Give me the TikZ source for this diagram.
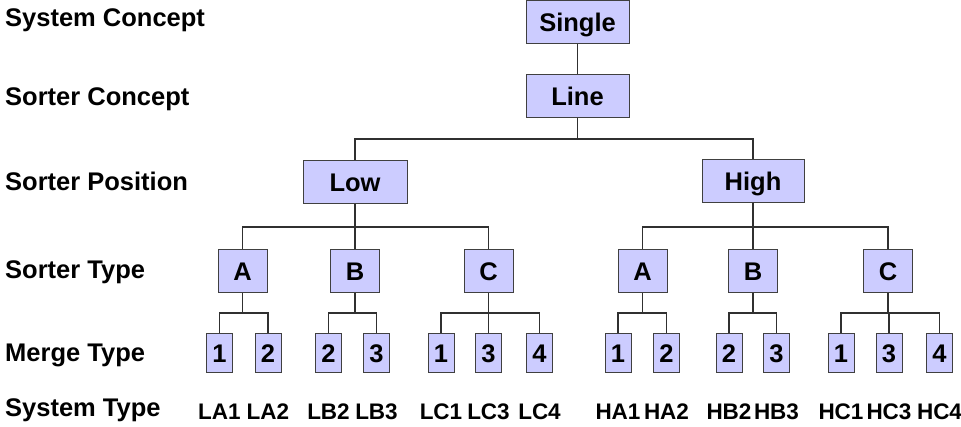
\documentclass[tikz,border=0pt]{standalone}
\usepackage{fontspec}
\setmainfont{Liberation Sans}
\definecolor{boxfill}{HTML}{CCCCFF}
\definecolor{boxline}{HTML}{404040}
\definecolor{wire}{HTML}{303030}
\begin{document}
\begin{tikzpicture}[x=1pt,y=-1pt,
  txt/.style={font=\fontsize{25.5}{30}\selectfont\bfseries, inner sep=0pt},
  box/.style={txt, draw=boxline, fill=boxfill, line width=1pt, text height=18.3pt, text depth=0pt},
  bigbox/.style={box, minimum width=103, minimum height=43},
  typebox/.style={box, minimum width=49, minimum height=43},
  mergebox/.style={box, minimum width=26, minimum height=39},
  lab/.style={txt, anchor=base west},
  stype/.style={font=\fontsize{22.5}{27}\selectfont\bfseries, inner sep=0pt, anchor=base},
  conn/.style={draw=wire, line width=1.1pt}
]
\useasboundingbox (0,0) rectangle (961,427);

% left labels
\node[lab] (l1) at (5,27) {System Concept};
\node[lab] (l2) at (5,106) {Sorter Concept};
\node[lab] (l3) at (5,191) {Sorter Position};
\node[lab] (l4) at (5,279) {Sorter Type};
\node[lab] (l5) at (5,362) {Merge Type};
\node[lab] (l6) at (5,417) {System Type};

% bus coordinates
\coordinate (b1) at (0,139);
\coordinate (b2) at (0,227);
\coordinate (b3) at (0,313);

% tree
\node[bigbox] (single) at (577.5,22.5) {Single};
\node[bigbox] (line) at (577.5,96.5) {Line};
\node[bigbox, minimum width=104] (low) at (355,182) {Low};
\node[bigbox, minimum width=102] (high) at (753,181) {High};

\node[typebox] (la) at (242.5,271.5) {A};
\node[typebox] (lb) at (355,271.5) {B};
\node[typebox] (lc) at (488.5,271.5) {C};
\node[typebox] (ha) at (642.5,271.5) {A};
\node[typebox] (hb) at (753,271.5) {B};
\node[typebox] (hc) at (888,271.5) {C};

\node[mergebox] (la1) at (219.5,353.5) {1};
\node[mergebox] (la2) at (268,353.5) {2};
\node[mergebox] (lb2) at (328.5,353.5) {2};
\node[mergebox] (lb3) at (376.5,353.5) {3};
\node[mergebox] (lc1) at (441,353.5) {1};
\node[mergebox] (lc3) at (488.5,353.5) {3};
\node[mergebox] (lc4) at (539.5,353.5) {4};
\node[mergebox] (ha1) at (618,353.5) {1};
\node[mergebox] (ha2) at (666.5,353.5) {2};
\node[mergebox] (hb2) at (729,353.5) {2};
\node[mergebox] (hb3) at (776.5,353.5) {3};
\node[mergebox] (hc1) at (841,353.5) {1};
\node[mergebox] (hc3) at (889,353.5) {3};
\node[mergebox] (hc4) at (939.5,353.5) {4};

% system type labels
\foreach \n/\t in {la1/LA1,la2/LA2,lb2/LB2,lb3/LB3,lc1/LC1,lc3/LC3,lc4/LC4,ha1/HA1,ha2/HA2,hb2/HB2,hb3/HB3,hc1/HC1,hc3/HC3,hc4/HC4}
  \node[stype] (t\n) at ([yshift=-66.5pt]\n.center) {\t};

% connectors
\draw[conn] (single.south) -- (line.north);
\foreach \c in {low,high}
  \draw[conn] (line.south) -- (line.south |- b1) -| (\c.north);
\foreach \c in {la,lb,lc}
  \draw[conn] (low.south) -- (low.south |- b2) -| (\c.north);
\foreach \c in {ha,hb,hc}
  \draw[conn] (high.south) -- (high.south |- b2) -| (\c.north);
\foreach \p/\c in {la/la1,la/la2,lb/lb2,lb/lb3,lc/lc1,lc/lc3,lc/lc4,ha/ha1,ha/ha2,hb/hb2,hb/hb3,hc/hc1,hc/hc3,hc/hc4}
  \draw[conn] (\p.south) -- (\p.south |- b3) -| (\c.north);
\end{tikzpicture}
\end{document}
